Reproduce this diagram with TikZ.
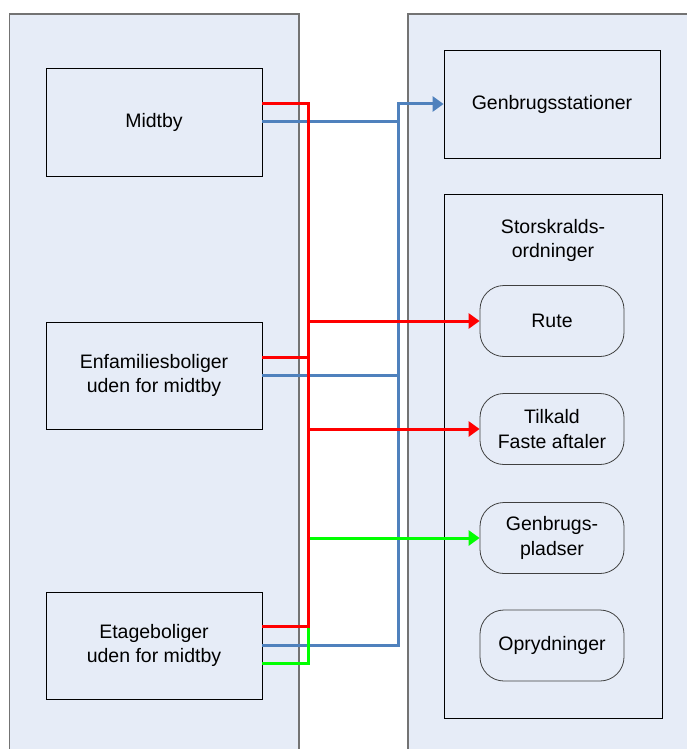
\documentclass[tikz,border=0pt]{standalone}
\usepackage{fontspec}
\setmainfont{Liberation Sans}
\usetikzlibrary{positioning, arrows.meta}
\definecolor{paneblue}{HTML}{E6ECF7}
\definecolor{busblue}{HTML}{4F81BD}

\begin{document}
\begin{tikzpicture}[x=1pt,y=-1pt,font=\fontsize{19.5}{24.5}\selectfont,
  panel/.style={draw=black!55,line width=1.3pt},
  area/.style={draw,line width=0.8pt,fill=paneblue,align=center,minimum width=216pt,minimum height=108pt},
  ordning/.style={draw=black!75,line width=0.8pt,fill=paneblue,rounded corners=24pt,align=center,minimum width=144pt,minimum height=71pt},
  wire/.style={line width=3pt,line join=miter},
  tip/.style={-{Triangle[length=11pt,width=15pt]}}]
  \useasboundingbox (0,0) rectangle (687,749);
  \fill[white] (0,0) rectangle (687,749);
  \fill[paneblue] (9.5,14) rectangle (299,760);
  \fill[paneblue] (408,14) rectangle (700,760);
  \draw[panel] (9.5,760) -- (9.5,14) -- (299,14) -- (299,760);
  \draw[panel] (408,760) -- (408,14) -- (700,14);

  \node[area] (midtby) at (154,122) {Midtby};
  \node[area,minimum height=107pt] (enfam) at (154,375.5) {Enfamiliesboliger\\uden for midtby};
  \node[area,minimum height=107pt] (etage) at (154,645.5) {Etageboliger\\uden for midtby};

  \node[area] (stationer) at (552,104) {Genbrugsstationer};
  \node[area,minimum width=218pt,minimum height=524pt] (stor) at (553,456) {};
  \node[align=center] (titel) [below=22pt of stor.north] {Storskralds-\\ordninger};
  \node[ordning] (rute) at (552,321) {Rute};
  \node[ordning] (tilkald) at (552,429) {Tilkald\\Faste aftaler};
  \node[ordning] (pladser) at (552,538) {Genbrugs-\\pladser};
  \node[ordning] (oprydning) at (552,645.5) {Oprydninger};

  \coordinate (redbus) at (308,0);
  \coordinate (bluebus) at (398,0);
  \coordinate (midtbyred) at ([yshift=18pt]midtby.east);
  \coordinate (enfamred) at ([yshift=18.5pt]enfam.east);
  \coordinate (etagered) at ([yshift=19.5pt]etage.east);
  \coordinate (etagegreen) at ([yshift=-18pt]etage.east);

  \draw[wire,busblue,tip] (midtby.east) -| (bluebus |- stationer.west) -- (stationer.west);
  \draw[wire,busblue] (enfam.east) -| (bluebus |- midtby.east);
  \draw[wire,busblue] (etage.east) -| (bluebus |- enfam.east);

  \draw[wire,green,tip] (etagegreen) -| (redbus |- pladser.west) -- (pladser.west);

  \draw[wire,red] (midtbyred) -| (redbus |- etagered) -- (etagered);
  \draw[wire,red] (enfamred) -- (redbus |- enfamred);
  \draw[wire,red,tip] (redbus |- rute.west) -- (rute.west);
  \draw[wire,red,tip] (redbus |- tilkald.west) -- (tilkald.west);
\end{tikzpicture}
\end{document}
